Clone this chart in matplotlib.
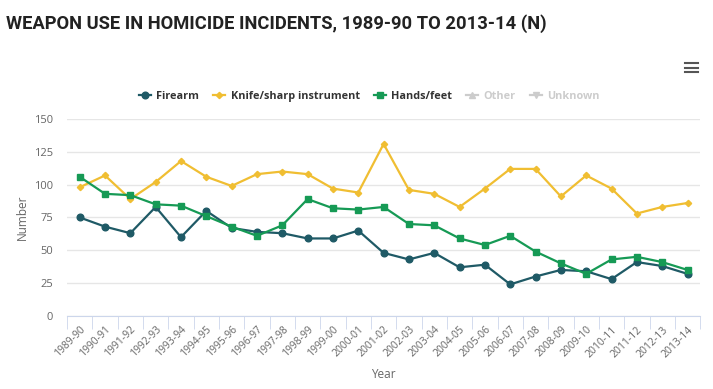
import numpy as np
import matplotlib.pyplot as plt
from matplotlib.lines import Line2D

''' data read off the chart '''

years = ['1989-90', '1990-91', '1991-92', '1992-93', '1993-94', '1994-95',
         '1995-96', '1996-97', '1997-98', '1998-99', '1999-00', '2000-01',
         '2001-02', '2002-03', '2003-04', '2004-05', '2005-06', '2006-07',
         '2007-08', '2008-09', '2009-10', '2010-11', '2011-12', '2012-13',
         '2013-14']

firearm = [75, 68, 63, 83, 60, 80, 67, 64, 63, 59, 59, 65, 48, 43, 48, 37,
           39, 24, 30, 35, 34, 28, 41, 38, 32]
knife = [98, 107, 89, 102, 118, 106, 99, 108, 110, 108, 97, 94, 131, 96, 93,
         83, 97, 112, 112, 91, 107, 97, 78, 83, 86]
hands = [106, 93, 92, 85, 84, 76, 68, 61, 69, 89, 82, 81, 83, 70, 69, 59, 54,
         61, 49, 40, 32, 43, 45, 41, 35]

y_ticks = [0, 25, 50, 75, 100, 125, 150]

c_fire = '#1f5a66'
c_knife = '#f0be32'
c_hands = '#169a55'
c_off = '#cccccc'
c_lab = '#666666'

plt.rcParams['font.family'] = ['Open Sans', 'DejaVu Sans']

fig = plt.figure(figsize=(7.13, 3.89), dpi=100)
ax = fig.add_axes([0.094, 0.188, 0.888, 0.506])

x = np.arange(len(years))
ax.plot(x, firearm, color=c_fire, lw=1.6, marker='o', ms=4.8, zorder=3)
ax.plot(x, knife, color=c_knife, lw=1.6, marker='D', ms=3.2, zorder=3)
ax.plot(x, hands, color=c_hands, lw=1.6, marker='s', ms=5, zorder=3)

ax.set_xlim(-0.5, len(years) - 0.5)
ax.set_ylim(0, 150)
ax.set_yticks(y_ticks)
ax.grid(axis='y', color='#e6e6e6', lw=1)
ax.set_axisbelow(True)

# category ticks sit between the categories, labels centred on them
ax.set_xticks(x)
ax.set_xticklabels(years, rotation=45, ha='right', rotation_mode='anchor',
                   fontsize=7.5, color=c_lab)
ax.set_xticks(np.arange(-0.5, len(years), 1), minor=True)
ax.tick_params(axis='x', which='major', length=0, pad=6)
ax.tick_params(axis='x', which='minor', length=9, color='#ccd6eb')
ax.tick_params(axis='y', length=0, labelsize=8, labelcolor=c_lab, pad=10)

for s in ['top', 'right', 'left']:
    ax.spines[s].set_visible(False)
ax.spines['bottom'].set_color('#ccd6eb')

ax.set_xlabel('Year', fontsize=8.5, color=c_lab, labelpad=6)
ax.set_ylabel('Number', fontsize=8.5, color=c_lab, labelpad=4)

handles = [
    Line2D([], [], color=c_fire, lw=1.6, marker='o', ms=4.8),
    Line2D([], [], color=c_knife, lw=1.6, marker='D', ms=3.2),
    Line2D([], [], color=c_hands, lw=1.6, marker='s', ms=5),
    Line2D([], [], color=c_off, lw=1.6, marker='^', ms=5),
    Line2D([], [], color=c_off, lw=1.6, marker='v', ms=5),
]
names = ['Firearm', 'Knife/sharp instrument', 'Hands/feet', 'Other', 'Unknown']
leg = fig.legend(handles, names, loc='center', bbox_to_anchor=(0.518, 0.753),
                 ncol=5, frameon=False, handlelength=1.1,
                 handletextpad=0.5, columnspacing=1.3,
                 prop={'weight': 'bold', 'size': 7.8})
for t, col in zip(leg.get_texts(), ['#333333'] * 3 + [c_off] * 2):
    t.set_color(col)

fig.text(0.008, 0.94, 'WEAPON USE IN HOMICIDE INCIDENTS, 1989-90 TO 2013-14 (N)',
         fontsize=13.2, fontweight='bold', color='#222222', va='center',
         family=['Roboto', 'DejaVu Sans'], stretch='condensed')

# hamburger menu icon
for yy in [0.838, 0.826, 0.814]:
    fig.add_artist(Line2D([0.961, 0.979], [yy, yy], color='#555555', lw=1.5))

fig.savefig('out.png', dpi=100, facecolor='white')
